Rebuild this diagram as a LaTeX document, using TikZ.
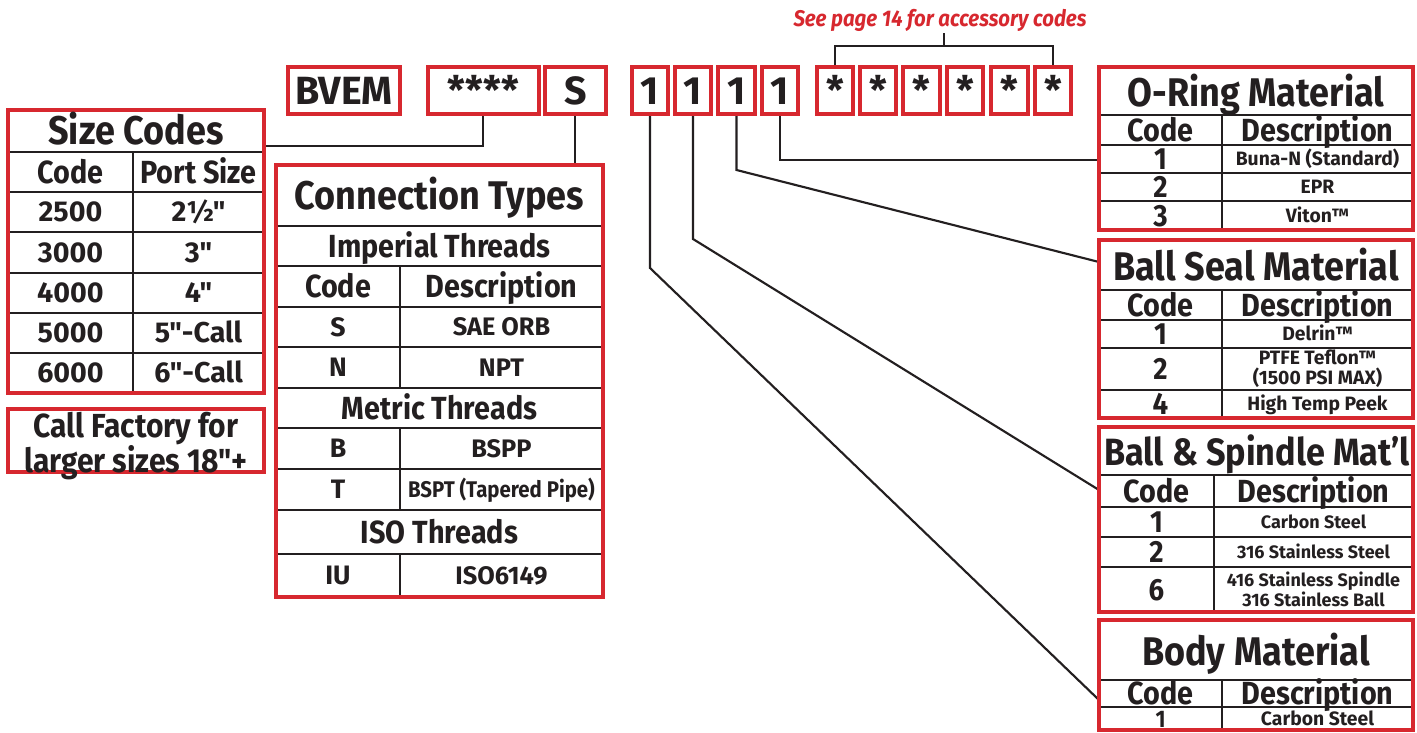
\documentclass[tikz,border=0pt]{standalone}
\usepackage{fontspec}
\newfontfamily\cf[FakeStretch=0.9]{Fira Sans}
\newfontfamily\cfw{Fira Sans}
\usetikzlibrary{fit}
\definecolor{brand}{HTML}{D7282F}
\definecolor{ink}{HTML}{231F20}
\tikzset{
 frame/.style={draw=brand, line width=3.2pt, inner sep=0pt},
 rule/.style={draw=ink, line width=1.9pt},
 conn/.style={draw=ink, line width=1.6pt},
 base/.style={inner sep=0pt, text=ink, text depth=0pt},
 ttl/.style={base, font=\cf\bfseries\fontsize{30}{30}\selectfont, text height=20.7pt},
 hdr/.style={base, font=\cf\bfseries\fontsize{24}{24}\selectfont, text height=16.5pt},
 szrow/.style={base, font=\cfw\bfseries\fontsize{21.5}{21.5}\selectfont, text height=14.8pt},
 ccode/.style={base, font=\cfw\bfseries\fontsize{20}{20}\selectfont, text height=13.8pt},
 cdesc/.style={base, font=\cfw\bfseries\fontsize{19}{19}\selectfont, text height=13.1pt},
 cdescn/.style={base, font=\cf\bfseries\fontsize{17}{17}\selectfont, text height=11.7pt},
 rcode/.style={base, font=\cf\bfseries\fontsize{23}{23}\selectfont, text height=15.8pt},
 rcodes/.style={base, font=\cf\bfseries\fontsize{18}{18}\selectfont, text height=12.4pt},
 rdesc/.style={base, font=\cfw\bfseries\fontsize{14.5}{14.5}\selectfont, text height=10pt},
 rdescs/.style={base, font=\cfw\bfseries\fontsize{13.5}{13.5}\selectfont, text height=9.3pt},
 rdesctwo/.style={inner sep=0pt, text=ink, align=center, font=\cfw\bfseries\fontsize{14.5}{15}\selectfont},
 rdesctwos/.style={inner sep=0pt, text=ink, align=center, font=\cfw\bfseries\fontsize{13.5}{14.5}\selectfont},
 topt/.style={base, font=\cfw\bfseries\fontsize{29.5}{29.5}\selectfont, text height=20.3pt},
 calltxt/.style={inner sep=0pt, text=ink, align=center, font=\cf\bfseries\fontsize{25}{21.5}\selectfont},
 acc/.style={inner sep=0pt, text=brand, font=\cf\bfseries\itshape\fontsize{17}{17}\selectfont},
}
\newcommand\tbox[4]{\node[frame, fit={(#2,67)(#3,114)}] (#1) {};
 \node[topt] (#1t) at (#1.center) {#4};}
\begin{document}
\begin{tikzpicture}[x=0.75pt,y=-0.75pt]
\useasboundingbox (0,0) rectangle (1417,732);
% ---------- accessory label and bracket
\node[acc] (acct) at (940,20) {See page 14 for accessory codes};
\coordinate (brk) at (944,46);
\coordinate (brktop) at (944,33);
% ---------- connectors (drawn first, frames on top)
\coordinate (szin) at (264,146);
\coordinate (ctin) at (575,165);
\coordinate (oin) at (1099,160);
\coordinate (sin) at (1099,262);
\coordinate (bin) at (1099,490);
\coordinate (din) at (1099,700);
\draw[conn] (483,114) |- (szin);
\draw[conn] (575,114) -- (ctin);
\draw[conn] (780,114) |- (oin);
\draw[conn] (736.5,114) -- (736.5,170) -- (sin);
\draw[conn] (693,114) -- (693,239) -- (bin);
\draw[conn] (650,114) -- (650,268) -- (din);
\draw[conn] (835,67) |- (brk) -| (1053,67);
\draw[conn] (brk) -- (brktop);
% ---------- top code boxes
\tbox{bvem}{288}{400}{BVEM}
\tbox{stars}{428}{539}{****}
\tbox{sbox}{545}{606}{S}
\tbox{one1}{632}{668}{1}
\tbox{one2}{675}{711}{1}
\tbox{one3}{718}{755}{1}
\tbox{one4}{762}{798}{1}
\tbox{acc1}{817}{853}{*}
\tbox{acc2}{860}{896}{*}
\tbox{acc3}{903}{940}{*}
\tbox{acc4}{947}{983}{*}
\tbox{acc5}{991}{1028}{*}
\tbox{acc6}{1035}{1071}{*}
% ---------- Size Codes
\foreach \y in {152,192,232,273,313,353} \draw[rule] (8,\y) -- (264,\y);
\draw[rule] (133,152) -- (133,393);
\node[frame, fit={(8,110)(264,393)}] (sizetab) {};
\node[ttl] (szt) at (136,131) {Size Codes};
\node[hdr] (szc) at (70.5,172) {Code};
\node[hdr] (szp) at (198.5,172) {Port Size};
\node[szrow] (sz1a) at (70.5,212) {2500};
\node[szrow] (sz1b) at (198.5,212) {2½"};
\node[szrow] (sz2a) at (70.5,252.5) {3000};
\node[szrow] (sz2b) at (198.5,252.5) {3"};
\node[szrow] (sz3a) at (70.5,293) {4000};
\node[szrow] (sz3b) at (198.5,293) {4"};
\node[szrow] (sz4a) at (70.5,333) {5000};
\node[szrow] (sz4b) at (198.5,333) {5"-Call};
\node[szrow] (sz5a) at (70.5,373) {6000};
\node[szrow] (sz5b) at (198.5,373) {6"-Call};
% ---------- Call factory
\node[frame, fit={(8,409)(264,472)}] (callbox) {};
\node[calltxt] (callt) at (136,446) {Call Factory for\\larger sizes 18"+};
% ---------- Connection Types
\foreach \y in {226,266,307,347,388,428,469,510,554} \draw[rule] (276,\y) -- (603,\y);
\draw[rule] (400,266) -- (400,388);
\draw[rule] (400,428) -- (400,510);
\draw[rule] (400,554) -- (400,597);
\node[frame, fit={(276,165)(603,597)}] (conntab) {};
\node[ttl] (ctt) at (439.5,196) {Connection Types};
\node[hdr] (cti) at (439.5,246) {Imperial Threads};
\node[hdr] (ctc) at (338,286.5) {Code};
\node[hdr] (ctd) at (501.5,286.5) {Description};
\node[ccode] (ct1a) at (338,327) {S};
\node[cdesc] (ct1b) at (501.5,327) {SAE ORB};
\node[ccode] (ct2a) at (338,367.5) {N};
\node[cdesc] (ct2b) at (501.5,367.5) {NPT};
\node[hdr] (ctm) at (439.5,408) {Metric Threads};
\node[ccode] (ct3a) at (338,448.5) {B};
\node[cdesc] (ct3b) at (501.5,448.5) {BSPP};
\node[ccode] (ct4a) at (338,489.5) {T};
\node[cdescn] (ct4b) at (501.5,489.5) {BSPT (Tapered Pipe)};
\node[hdr] (cto) at (439.5,532) {ISO Threads};
\node[ccode] (ct5a) at (338,575.5) {IU};
\node[cdesc] (ct5b) at (501.5,575.5) {ISO6149};
% ---------- O-Ring Material
\foreach \y in {115,145,173,201} \draw[rule] (1099,\y) -- (1413,\y);
\draw[rule] (1222,115) -- (1222,230);
\node[frame, fit={(1099,67)(1413,230)}] (oring) {};
\node[ttl] (ort) at (1256,93) {O-Ring Material};
\node[hdr] (orc) at (1160.5,130) {Code};
\node[hdr] (ord) at (1317.5,130) {Description};
\node[rcode] (or1a) at (1160.5,159) {1};
\node[rdesc] (or1b) at (1317.5,159) {Buna-N (Standard)};
\node[rcode] (or2a) at (1160.5,187) {2};
\node[rdesc] (or2b) at (1317.5,187) {EPR};
\node[rcode] (or3a) at (1160.5,215.5) {3};
\node[rdesc] (or3b) at (1317.5,215.5) {Viton™};
% ---------- Ball Seal Material
\foreach \y in {290,320,348,390} \draw[rule] (1099,\y) -- (1413,\y);
\draw[rule] (1222,290) -- (1222,418);
\node[frame, fit={(1099,240)(1413,418)}] (seal) {};
\node[ttl] (slt) at (1256,267) {Ball Seal Material};
\node[hdr] (slc) at (1160.5,305) {Code};
\node[hdr] (sld) at (1317.5,305) {Description};
\node[rcode] (sl1a) at (1160.5,334) {1};
\node[rdesc] (sl1b) at (1317.5,334) {Delrin™};
\node[rcode] (sl2a) at (1160.5,369) {2};
\node[rdesctwo] (sl2b) at (1317.5,369) {PTFE Teflon™\\(1500 PSI MAX)};
\node[rcode] (sl3a) at (1160.5,404) {4};
\node[rdesc] (sl3b) at (1317.5,404) {High Temp Peek};
% ---------- Ball & Spindle
\foreach \y in {475,507,537,567} \draw[rule] (1099,\y) -- (1413,\y);
\draw[rule] (1214,475) -- (1214,612);
\node[frame, fit={(1099,427)(1413,612)}] (spindle) {};
\node[ttl, font=\cf\bfseries\fontsize{28.5}{28.5}\selectfont] (spt) at (1257,452) {Ball \& Spindle Mat’l};
\node[hdr] (spc) at (1156.5,491) {Code};
\node[hdr] (spd) at (1313.5,491) {Description};
\node[rcode] (sp1a) at (1156.5,522) {1};
\node[rdescs] (sp1b) at (1313.5,522) {Carbon Steel};
\node[rcode] (sp2a) at (1156.5,552) {2};
\node[rdescs] (sp2b) at (1313.5,552) {316 Stainless Steel};
\node[rcode] (sp3a) at (1156.5,589.5) {6};
\node[rdesctwos] (sp3b) at (1313.5,589.5) {416 Stainless Spindle\\316 Stainless Ball};
% ---------- Body Material
\foreach \y in {680,707} \draw[rule] (1099,\y) -- (1413,\y);
\draw[rule] (1222,680) -- (1222,730);
\node[frame, fit={(1099,620)(1413,730)}] (body) {};
\node[ttl] (bdt) at (1256,652) {Body Material};
\node[hdr] (bdc) at (1160.5,693) {Code};
\node[hdr] (bdd) at (1317.5,693) {Description};
\node[rcodes] (bd1a) at (1160.5,719) {1};
\node[rdesc] (bd1b) at (1317.5,719) {Carbon Steel};
\end{tikzpicture}
\end{document}
